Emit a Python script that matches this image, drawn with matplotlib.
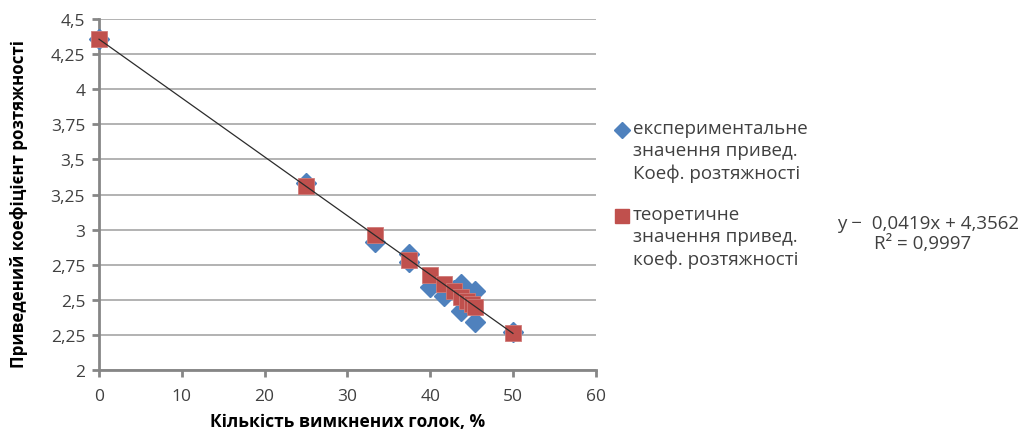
import matplotlib
matplotlib.use("Agg")
import matplotlib.pyplot as plt
from matplotlib.lines import Line2D
import numpy as np

plt.rcParams['font.family'] = ['Open Sans', 'DejaVu Sans']

# experimental values (blue diamonds)
exp_x = [0, 25, 33.3, 37.5, 37.5, 40, 41.7, 42.9, 43.75, 43.75, 44.4, 45.45, 45.45, 50]
exp_y = [4.36, 3.33, 2.91, 2.83, 2.77, 2.59, 2.53, 2.57, 2.61, 2.42, 2.48, 2.56, 2.34, 2.27]

# theoretical values (red squares)
theo_x = [0, 25, 33.3, 37.5, 40, 41.7, 42.9, 43.75, 44.4, 45, 45.45, 50]
theo_y = [4.356, 3.309, 2.96, 2.785, 2.68, 2.61, 2.56, 2.523, 2.494, 2.47, 2.452, 2.261]

# linear trend
slope, intercept = -0.0419, 4.3562
trend_x = np.array([0, 50])

xticks = [0, 10, 20, 30, 40, 50, 60]
yticks = [2, 2.25, 2.5, 2.75, 3, 3.25, 3.5, 3.75, 4, 4.25, 4.5]
ytick_labels = ['2', '2,25', '2,5', '2,75', '3', '3,25', '3,5', '3,75', '4', '4,25', '4,5']

labels = ['експериментальне\nзначення привед.\nКоеф. розтяжності',
          'теоретичне\nзначення привед.\nкоеф. розтяжності']

blue = '#4F81BD'
red = '#C0504D'
gray = '#868686'
txt = '#404040'

fig = plt.figure(figsize=(10.22, 4.35), dpi=100)
ax = fig.add_axes([0.0969, 0.147, 0.486, 0.807])

ax.plot(exp_x, exp_y, linestyle='none', marker='D', markersize=10,
        color=blue, markeredgecolor=blue, zorder=3, clip_on=False)
ax.plot(theo_x, theo_y, linestyle='none', marker='s', markersize=12,
        color=red, markeredgecolor='#D07A78', markeredgewidth=0.6, zorder=4,
        clip_on=False)
ax.plot(trend_x, slope * trend_x + intercept, color='#2b2b2b', lw=0.9, zorder=5,
        clip_on=False)

ax.set_xlim(0, 60)
ax.set_ylim(2, 4.5)
ax.set_xticks(xticks)
ax.set_xticklabels([str(v) for v in xticks])
ax.set_yticks(yticks)
ax.set_yticklabels(ytick_labels)
ax.yaxis.grid(True, color='#A6A6A6', lw=1.2)
ax.set_axisbelow(True)
for s in ['top', 'right']:
    ax.spines[s].set_visible(False)
for s in ['left', 'bottom']:
    ax.spines[s].set_color(gray)
    ax.spines[s].set_linewidth(2)
ax.tick_params(axis='both', direction='out', length=5, width=2, color=gray,
               labelsize=12.5, labelcolor=txt, pad=5)
ax.tick_params(axis='x', pad=8)

ax.set_xlabel('Кількість вимкнених голок, %', fontsize=12.5, fontweight='bold',
              color='#000000', labelpad=6)
ax.set_ylabel('Приведений коефіцієнт розтяжності', fontsize=12.2, fontweight='bold',
              color='#000000')
ax.yaxis.set_label_coords(-0.143, 0.476)

# legend drawn by hand so the key sits on the first line of each entry
legend_tops = [0.724, 0.526]
keys = [dict(marker='D', color=blue, markersize=8),
        dict(marker='s', color=red, markersize=10)]
for top, lab, k in zip(legend_tops, labels, keys):
    fig.text(0.619, top, lab, fontsize=13.5, color=txt, ha='left', va='top',
             linespacing=1.3)
    fig.add_artist(Line2D([0.6087], [top - 0.0245], transform=fig.transFigure,
                          linestyle='none', markeredgecolor=k['color'], **k))

fig.text(0.908, 0.485, 'y \u2212  0,0419x + 4,3562', fontsize=13.5, color=txt,
         ha='center', va='center')
fig.text(0.903, 0.44, 'R² = 0,9997', fontsize=13.5, color=txt,
         ha='center', va='center')

fig.savefig('out.png', dpi=100)
